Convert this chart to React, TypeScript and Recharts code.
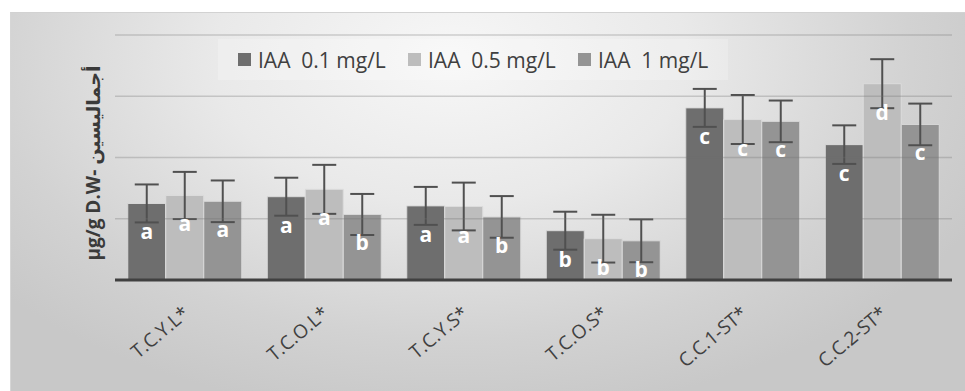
import React from 'react';
import {
  BarChart,
  Bar,
  XAxis,
  YAxis,
  ErrorBar,
  LabelList,
  Legend,
  ReferenceLine,
} from 'recharts';

// Samples on the category axis
const categories = ['T.C.Y.L*', 'T.C.O.L*', 'T.C.Y.S*', 'T.C.O.S*', 'C.C.1-ST*', 'C.C.2-ST*'];

// Mean content per IAA concentration
const iaa01 = [12.5, 13.6, 12.1, 8.05, 28.1, 22.1];
const iaa05 = [13.8, 14.8, 12.0, 6.75, 26.2, 32.05];
const iaa1 = [12.85, 10.7, 10.3, 6.4, 25.9, 25.4];

// Standard deviations
const err01 = [3.1, 3.1, 3.1, 3.1, 3.1, 3.15];
const err05 = [3.85, 4.0, 3.9, 3.9, 4.0, 4.0];
const err1 = [3.4, 3.35, 3.4, 3.5, 3.4, 3.4];

// Significance letters
const sig01 = ['a', 'a', 'a', 'b', 'c', 'c'];
const sig05 = ['a', 'a', 'a', 'b', 'c', 'd'];
const sig1 = ['a', 'b', 'b', 'b', 'c', 'c'];

const gridValues = [10, 20, 30, 40];

const seriesNames = ['IAA  0.1 mg/L', 'IAA  0.5 mg/L', 'IAA  1 mg/L'];
const seriesColors = ['#6e6e6e', '#bdbdbd', '#949494'];

const data = categories.map((name, i) => ({
  name,
  v01: iaa01[i],
  v05: iaa05[i],
  v1: iaa1[i],
  e01: err01[i],
  e05: err05[i],
  e1: err1[i],
  s01: sig01[i],
  s05: sig05[i],
  s1: sig1[i],
}));

const FONT = '"Open Sans", "DejaVu Sans", sans-serif';

const SigLabel = (props: any) => {
  const { x, y, width, value } = props;
  return (
    <text
      x={Number(x) + Number(width) / 2}
      y={Number(y) + 28}
      textAnchor="middle"
      dominantBaseline="central"
      fill="#ffffff"
      fontFamily={FONT}
      fontWeight={700}
      fontSize={21}
    >
      {value}
    </text>
  );
};

const LegendContent = () => (
  <div
    style={{
      position: 'relative',
      height: 41,
      fontFamily: FONT,
      fontSize: 21,
      color: '#404040',
      whiteSpace: 'pre',
    }}
  >
    {seriesNames.map((n, i) => (
      <div
        key={n}
        style={{
          position: 'absolute',
          left: 20 + i * 170,
          top: 0,
          height: 41,
          display: 'flex',
          alignItems: 'center',
        }}
      >
        <span
          style={{
            display: 'inline-block',
            width: 13,
            height: 13,
            background: seriesColors[i],
            marginRight: 7,
          }}
        />
        <span>{n}</span>
      </div>
    ))}
  </div>
);

export default function App() {
  return (
    <div
      style={{
        position: 'absolute',
        left: 0,
        top: 0,
        width: 965,
        height: 391,
        background: '#ffffff',
      }}
    >
      <div
        style={{
          position: 'absolute',
          left: 10,
          top: 12,
          width: 955,
          height: 379,
          borderTop: '1px solid #d2d2d2',
          borderLeft: '1px solid #d6d6d6',
          background:
            'radial-gradient(ellipse 62% 95% at 46% 12%, #f7f7f7 0%, #e9e9e9 40%, #d2d2d2 78%, #c8c8c8 100%)',
        }}
      />
      <div
        style={{
          position: 'absolute',
          left: 218,
          top: 39,
          width: 510,
          height: 41,
          background: 'rgba(255,255,255,0.22)',
        }}
      />
      <div
        style={{
          position: 'absolute',
          left: 93,
          top: 163,
          transform: 'translate(-50%, -50%) rotate(-90deg)',
          whiteSpace: 'nowrap',
          fontFamily: FONT,
          fontWeight: 700,
          fontSize: 19,
          color: '#3a3a3a',
        }}
      >
        µg/g D.W- أجماليسين
      </div>
      <div style={{ position: 'absolute', left: 0, top: 0 }}>
        <BarChart
          width={965}
          height={391}
          data={data}
          margin={{ top: 35, right: 13, bottom: 81, left: 115 }}
          barCategoryGap={12.75}
          barGap={0}
        >
          <YAxis hide domain={[0, 40]} ticks={[0, 10, 20, 30, 40]} />
          <XAxis
            dataKey="name"
            height={30}
            tickLine={false}
            tickSize={0}
            tickMargin={25}
            interval={0}
            angle={-40}
            textAnchor="end"
            axisLine={{ stroke: '#404040', strokeWidth: 3 }}
            tick={{ fill: '#404040', fontSize: 19, fontFamily: FONT, dx: -3 }}
          />
          <Legend
            layout="horizontal"
            verticalAlign="middle"
            align="center"
            content={<LegendContent />}
            wrapperStyle={{ position: 'absolute', left: 218, top: 39, width: 510, height: 41 }}
          />
          <Bar dataKey="v01" name={seriesNames[0]} fill={seriesColors[0]} stroke="#d9d9d9" strokeWidth={1} isAnimationActive={false}>
            <LabelList dataKey="s01" content={<SigLabel />} />
            <ErrorBar dataKey="e01" width={12} strokeWidth={2} stroke="#505050" direction="y" />
          </Bar>
          <Bar dataKey="v05" name={seriesNames[1]} fill={seriesColors[1]} stroke="#dcdcdc" strokeWidth={1} isAnimationActive={false}>
            <LabelList dataKey="s05" content={<SigLabel />} />
            <ErrorBar dataKey="e05" width={12} strokeWidth={2} stroke="#505050" direction="y" />
          </Bar>
          <Bar dataKey="v1" name={seriesNames[2]} fill={seriesColors[2]} stroke="#d9d9d9" strokeWidth={1} isAnimationActive={false}>
            <LabelList dataKey="s1" content={<SigLabel />} />
            <ErrorBar dataKey="e1" width={12} strokeWidth={2} stroke="#505050" direction="y" />
          </Bar>
          {gridValues.map((v) => (
            <ReferenceLine key={v} y={v} stroke="#6f6f6f" strokeOpacity={0.3} strokeWidth={1.5} />
          ))}
        </BarChart>
      </div>
    </div>
  );
}
